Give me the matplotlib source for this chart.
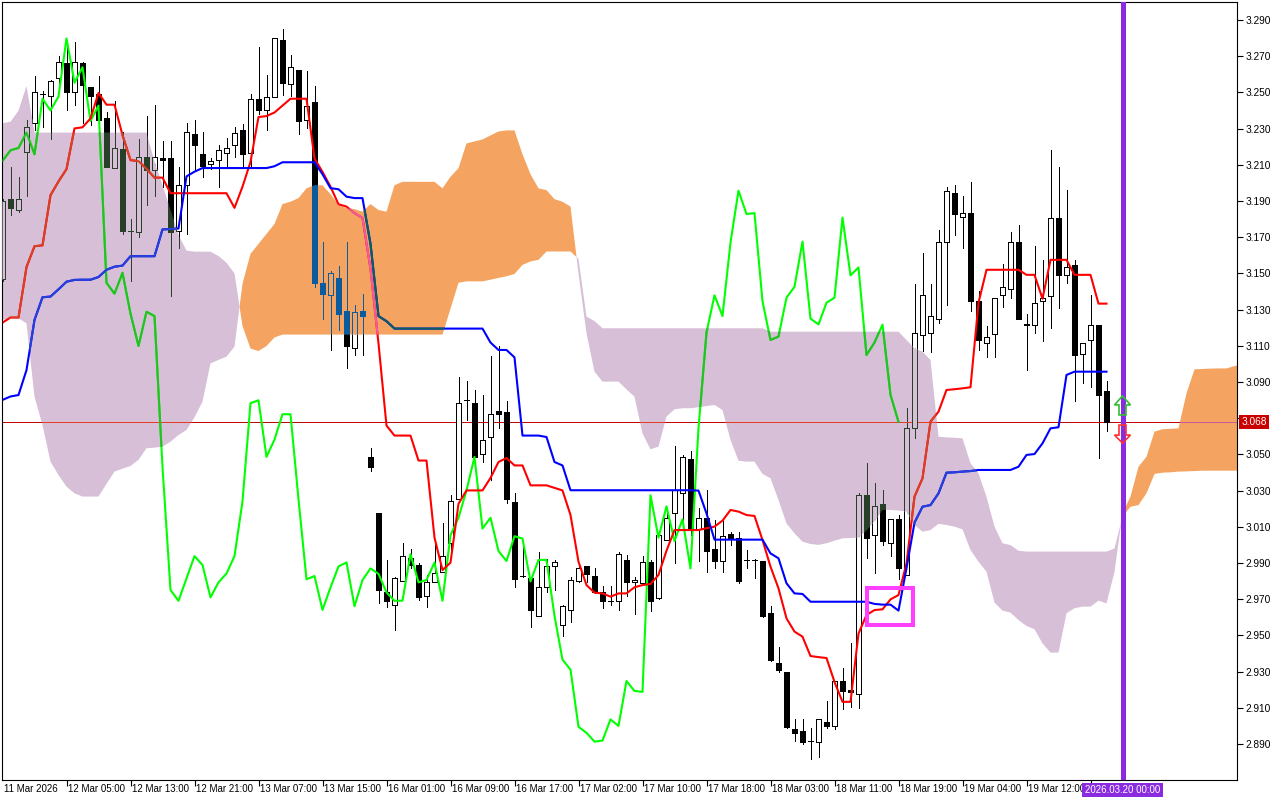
import numpy as np
import matplotlib
matplotlib.use("Agg")
import matplotlib.pyplot as plt
from matplotlib.path import Path
from matplotlib.patches import PathPatch, Rectangle, Polygon
from matplotlib.collections import LineCollection, PolyCollection

# ---------------- data (H1 bars) ----------------
opens = [3.147, 3.191, 3.185, 3.217, 3.233, 3.249, 3.248, 3.258, 3.266, 3.250,
         3.266, 3.253, 3.249, 3.236, 3.208, 3.219, 3.1735, 3.173, 3.2145, 3.207,
         3.214, 3.214, 3.1736, 3.1987, 3.227, 3.216, 3.2105, 3.2127, 3.2163, 3.2207,
         3.229, 3.2163, 3.2465, 3.2405, 3.2477, 3.279, 3.2548, 3.2625, 3.235, 3.2446,
         3.1448, 3.138, 3.1476, 3.1291, 3.109, 3.1291, 3.0486, 3.0178, 2.9738, 2.9669,
         2.9801, 2.993, 2.9889, 2.9718, 2.9793, 2.9853, 3.0013, 3.0252, 3.0799, 3.0783,
         3.0502, 3.0596, 3.0741, 3.0733, 3.0238, 2.9828, 2.9815, 2.9608, 2.9765, 2.9881,
         2.9559, 2.9641, 2.9798, 2.9881, 2.9828, 2.9738, 2.969, 2.9691, 2.9916, 2.9793,
         2.9787, 2.9903, 2.9705, 3.0026, 3.0178, 3.0288, 3.0475, 3.009, 3.015, 2.998,
         2.9911, 3.0062, 3.004, 2.9916, 2.9916, 2.9911, 2.9622, 2.9347, 2.9297, 2.8981,
         2.8973, 2.8918, 2.8913, 2.9023, 2.900, 2.9248, 2.9201, 2.9174, 3.0274, 3.0054,
         3.0224, 3.0013, 3.0142, 2.9834, 3.0645, 3.1162, 3.1168, 3.125, 3.1676, 3.1946,
         3.1811, 3.1836, 3.1346, 3.1118, 3.1165, 3.1379, 3.1415, 3.1671, 3.1217, 3.1217,
         3.1346, 3.1374, 3.1808, 3.1489, 3.1547, 3.1052, 3.1132, 3.1214, 3.0851]
highs = [3.191, 3.209, 3.203, 3.235, 3.259, 3.251, 3.257, 3.270, 3.279, 3.278,
         3.267, 3.253, 3.259, 3.239, 3.245, 3.228, 3.180, 3.224, 3.237, 3.243,
         3.223, 3.223, 3.209, 3.233, 3.2345, 3.228, 3.214, 3.2207, 3.2246, 3.2309,
         3.2323, 3.2493, 3.2749, 3.2598, 3.280, 3.285, 3.2708, 3.2625, 3.2617, 3.2537,
         3.1676, 3.1511, 3.1539, 3.1671, 3.1327, 3.1388, 3.0535, 3.0178, 2.9916, 2.982,
         3.0013, 2.9977, 2.9902, 2.9834, 3.0013, 3.0123, 3.0274, 3.0928, 3.0906, 3.0857,
         3.0829, 3.1041, 3.1099, 3.0794, 3.0288, 3.0013, 2.982, 2.9963, 2.9922, 2.9916,
         2.9669, 2.982, 2.9889, 2.9881, 2.987, 2.9771, 2.9771, 2.9958, 2.9944, 2.982,
         2.9938, 2.9916, 3.0056, 3.0205, 3.0549, 3.0499, 3.0521, 3.0205, 3.0301, 3.0137,
         3.0137, 3.0073, 3.0073, 2.9971, 2.992, 2.9911, 2.9661, 2.9435, 2.9297, 2.9036,
         2.9036, 2.899, 2.9036, 2.9138, 2.9248, 2.9319, 2.9457, 3.0288, 3.0453, 3.0343,
         3.0301, 3.0142, 3.0164, 3.0755, 3.1443, 3.1613, 3.1443, 3.174, 3.1979, 3.1987,
         3.1929, 3.2006, 3.1401, 3.1209, 3.1366, 3.155, 3.1731, 3.1767, 3.1277, 3.1649,
         3.1575, 3.218, 3.2089, 3.196, 3.1572, 3.1118, 3.1379, 3.1214, 3.0906]
lows = [3.146, 3.182, 3.184, 3.193, 3.229, 3.231, 3.224, 3.250, 3.240, 3.243,
        3.233, 3.232, 3.222, 3.209, 3.208, 3.172, 3.146, 3.170, 3.188, 3.193,
        3.198, 3.1375, 3.164, 3.172, 3.2071, 3.2034, 3.2075, 3.1979, 3.2086, 3.2141,
        3.2086, 3.2089, 3.2378, 3.229, 3.2474, 3.2488, 3.2482, 3.2268, 3.2301, 3.1426,
        3.125, 3.1077, 3.119, 3.098, 3.105, 3.105, 3.041, 2.9677, 2.9655, 2.9531,
        2.9801, 2.9875, 2.9696, 2.9655, 2.9793, 2.985, 2.9958, 3.0252, 3.0692, 3.0486,
        3.0458, 3.0356, 3.0645, 3.0233, 2.977, 2.982, 2.9545, 2.9608, 2.9738, 2.9751,
        2.9496, 2.9572, 2.9793, 2.9793, 2.9732, 2.965, 2.9669, 2.9641, 2.972, 2.962,
        2.9779, 2.9633, 2.9700, 3.0026, 2.990, 3.008, 3.0054, 2.9911, 2.9848, 2.9875,
        2.9848, 3.000, 2.9787, 2.987, 2.9815, 2.96, 2.9358, 2.9297, 2.899, 2.8918,
        2.8899, 2.8816, 2.883, 2.899, 2.8981, 2.9091, 2.9105, 2.9100, 2.993, 2.9842,
        2.9999, 2.9936, 2.981, 2.9834, 3.059, 3.1071, 3.1063, 3.1228, 3.1327, 3.1712,
        3.1643, 3.129, 3.1077, 3.1036, 3.1036, 3.1316, 3.1366, 3.125, 3.0967, 3.1173,
        3.1126, 3.12, 3.131, 3.1448, 3.0796, 3.0893, 3.087, 3.048, 3.0631]
closes = [3.190, 3.186, 3.191, 3.231, 3.250, 3.2492, 3.2565, 3.267, 3.250, 3.267,
          3.254, 3.248, 3.235, 3.209, 3.2195, 3.1735, 3.1733, 3.2145, 3.207, 3.2145,
          3.2127, 3.173, 3.1987, 3.228, 3.221, 3.2093, 3.2122, 3.218, 3.2193, 3.2278,
          3.2158, 3.2465, 3.240, 3.2477, 3.2798, 3.2553, 3.2639, 3.2342, 3.2427, 3.1448,
          3.1388, 3.1503, 3.1278, 3.1099, 3.1288, 3.1264, 3.043, 2.9751, 2.9691, 2.9815,
          2.9938, 2.9889, 2.971, 2.9793, 2.9842, 2.9938, 3.0241, 3.0783, 3.0799, 3.0486,
          3.0582, 3.0722, 3.0722, 3.0252, 2.981, 2.9828, 2.9641, 2.9765, 2.9881, 2.9903,
          2.9661, 2.9806, 2.987, 2.984, 2.9738, 2.9691, 2.9692, 2.9949, 2.9793, 2.9806,
          2.9903, 2.9691, 3.0054, 3.015, 3.0301, 3.0486, 3.009, 3.015, 2.9966, 2.9911,
          3.0048, 3.0035, 2.9798, 2.9917, 2.9917, 2.9608, 2.9366, 2.9311, 2.8995, 2.8962,
          2.8913, 2.8919, 2.9036, 2.900, 2.9248, 2.9193, 2.9188, 3.0274, 3.004, 3.0213,
          3.0021, 3.0142, 2.987, 3.0645, 3.1173, 3.1379, 3.1264, 3.1671, 3.1957, 3.1828,
          3.1833, 3.1346, 3.1132, 3.1151, 3.1366, 3.1426, 3.1676, 3.125, 3.1218, 3.1338,
          3.1366, 3.1808, 3.1489, 3.1533, 3.1049, 3.1118, 3.1217, 3.0829, 3.068]

tenkan = [3.1228, 3.1256, 3.1256, 3.1535, 3.1650, 3.1655, 3.1932, 3.2008, 3.2076, 3.2301,
          3.2307, 3.2356, 3.2497, 3.2432, 3.2432, 3.2264, 3.2126, 3.2120, 3.2078, 3.2029,
          3.2029, 3.1943, 3.1943, 3.1943, 3.1943, 3.1943, 3.1943, 3.1943, 3.1943, 3.1862,
          3.1979, 3.2116, 3.2364, 3.2369, 3.2389, 3.2427, 3.2465, 3.2465, 3.2465, 3.2135,
          3.2061, 3.1979, 3.1882, 3.1869, 3.1833, 3.1806, 3.1525, 3.1113, 3.0659, 3.0604,
          3.0604, 3.0604, 3.0466, 3.0466, 3.0040, 2.9861, 2.9902, 3.0227, 3.0301, 3.0301,
          3.0301, 3.0370, 3.0458, 3.0480, 3.0439, 3.0439, 3.0329, 3.0329, 3.0329, 3.0315,
          3.0301, 3.0165, 2.9907, 2.9778, 2.9736, 2.9732, 2.9714, 2.9732, 2.9732, 2.9766,
          2.9778, 2.9784, 2.9834, 2.9968, 3.0082, 3.0082, 3.0082, 3.0082, 3.0092, 3.0101,
          3.0134, 3.0193, 3.0184, 3.0165, 3.0160, 3.0027, 2.9880, 2.9760, 2.9594, 2.9521,
          2.9493, 2.9386, 2.9380, 2.9375, 2.9243, 2.9133, 2.9133, 2.9510, 2.9613, 2.9640,
          2.9644, 2.9699, 2.9723, 2.9898, 3.0267, 3.0368, 3.0681, 3.0736, 3.0856, 3.0860,
          3.0865, 3.0871, 3.1338, 3.1520, 3.1520, 3.1520, 3.1520, 3.1520, 3.1492, 3.1492,
          3.1360, 3.1575, 3.1575, 3.1575, 3.1492, 3.1492, 3.1492, 3.1333, 3.1333]
kijun = [3.0801, 3.0820, 3.0828, 3.0966, 3.1243, 3.1368, 3.1372, 3.1412, 3.1454, 3.1464,
         3.1465, 3.1465, 3.1480, 3.1520, 3.1537, 3.1543, 3.1595, 3.1595, 3.1595, 3.1595,
         3.1743, 3.1745, 3.1748, 3.2036, 3.2062, 3.2082, 3.2082, 3.2082, 3.2082, 3.2082,
         3.2082, 3.2082, 3.2082, 3.2082, 3.2092, 3.2114, 3.2114, 3.2114, 3.2114, 3.2114,
         3.2048, 3.1971, 3.1965, 3.1924, 3.1916, 3.1916, 3.1663, 3.1264, 3.1236, 3.1195,
         3.1195, 3.1195, 3.1195, 3.1195, 3.1195, 3.1195, 3.1195, 3.1195, 3.1195, 3.1195,
         3.1195, 3.1118, 3.1077, 3.1077, 3.1036, 3.0604, 3.0604, 3.0604, 3.0596, 3.0458,
         3.0439, 3.0302, 3.0302, 3.0302, 3.0302, 3.0302, 3.0302, 3.0302, 3.0302, 3.0302,
         3.0302, 3.0302, 3.0302, 3.0302, 3.0302, 3.0302, 3.0302, 3.0300, 3.0174, 3.0029,
         3.0029, 3.0029, 3.0029, 3.0029, 3.0029, 3.0029, 2.9953, 2.9926, 2.9788, 2.9732,
         2.9729, 2.9686, 2.9686, 2.9686, 2.9686, 2.9686, 2.9686, 2.9686, 2.9686, 2.9674,
         2.9670, 2.9670, 2.9637, 2.9871, 3.0123, 3.0211, 3.0220, 3.0285, 3.0399, 3.0401,
         3.0405, 3.0408, 3.0414, 3.0414, 3.0414, 3.0414, 3.0414, 3.0432, 3.0497, 3.0502,
         3.0561, 3.0644, 3.0650, 3.0939, 3.0957, 3.0957, 3.0957, 3.0957, 3.0957]

# Senkou spans as plotted (already shifted 26 bars forward), bar 0..155
span_a = [3.1243, 3.1252, 3.1252, 3.1224, 3.0819, 3.0662, 3.0460, 3.0386, 3.0322, 3.0285,
          3.0267, 3.0267, 3.0267, 3.0337, 3.0405, 3.0421, 3.0436, 3.0470, 3.0534, 3.0537,
          3.0543, 3.0570, 3.0607, 3.0635, 3.0705, 3.0791, 3.1003, 3.1022, 3.1040, 3.1095,
          3.1443, 3.1608, 3.1663, 3.1718, 3.1773, 3.1883, 3.1896, 3.1916, 3.1970, 3.1987,
          3.1987, 3.1938, 3.1877, 3.1860, 3.1855, 3.1841, 3.1883, 3.1850, 3.1841, 3.1987,
          3.2006, 3.2006, 3.2006, 3.2006, 3.2006, 3.1970, 3.2034, 3.2081, 3.2218, 3.2229,
          3.2240, 3.2262, 3.2284, 3.2290, 3.2290, 3.2158, 3.2048, 3.1970, 3.1960, 3.1910,
          3.1896, 3.1869, 3.1500, 3.1169, 3.0957, 3.0902, 3.0902, 3.0902, 3.0859, 3.0819,
          3.0616, 3.0528, 3.0543, 3.0709, 3.0749, 3.0755, 3.0755, 3.0760, 3.0767, 3.0773,
          3.0745, 3.0580, 3.0465, 3.0460, 3.0460, 3.0392, 3.0368, 3.0248, 3.0119, 3.0064,
          3.0018, 3.0005, 3.0000, 3.0009, 3.0023, 3.0036, 3.0038, 3.0040, 3.0080, 3.0130,
          3.0193, 3.0193, 3.0190, 3.0184, 3.0110, 3.0073, 3.0082, 3.0116, 3.0110, 3.0101,
          3.0086, 2.9972, 2.9907, 2.9852, 2.9681, 2.9637, 2.9626, 2.9585, 2.9552, 2.9534,
          2.9456, 2.9405, 2.9405, 2.9622, 2.9650, 2.9659, 2.9659, 2.9692, 2.9677, 2.9850,
          3.0175, 3.0267, 3.0432, 3.0487, 3.0626, 3.0639, 3.0641, 3.0644, 3.0837, 3.0970,
          3.0972, 3.0974, 3.0975, 3.0975, 3.0988, 3.0996]
span_b = [3.2329, 3.2338, 3.2399, 3.2535, 3.2278, 3.2278, 3.2278, 3.2278, 3.2278, 3.2278,
          3.2278, 3.2278, 3.2278, 3.2278, 3.2278, 3.2278, 3.2278, 3.2278, 3.2278, 3.2117,
          3.1988, 3.1850, 3.1712, 3.1626, 3.1620, 3.1620, 3.1620, 3.1596, 3.1559, 3.1500,
          3.1209, 3.1085, 3.1071, 3.1099, 3.1146, 3.1162, 3.1162, 3.1162, 3.1162, 3.1162,
          3.1162, 3.1162, 3.1162, 3.1162, 3.1162, 3.1162, 3.1162, 3.1162, 3.1162, 3.1162,
          3.1162, 3.1162, 3.1162, 3.1162, 3.1162, 3.1162, 3.1305, 3.1448, 3.1456, 3.1456,
          3.1456, 3.1465, 3.1475, 3.1484, 3.1497, 3.1547, 3.1566, 3.1575, 3.1621, 3.1621,
          3.1621, 3.1621, 3.1580, 3.1261, 3.1237, 3.1197, 3.1197, 3.1197, 3.1197, 3.1197,
          3.1197, 3.1197, 3.1197, 3.1197, 3.1197, 3.1197, 3.1197, 3.1197, 3.1197, 3.1197,
          3.1197, 3.1197, 3.1197, 3.1197, 3.1197, 3.1197, 3.1178, 3.1178, 3.1178, 3.1178,
          3.1178, 3.1178, 3.1178, 3.1178, 3.1178, 3.1178, 3.1178, 3.1178, 3.1178, 3.1178,
          3.1178, 3.1178, 3.1178, 3.1132, 3.1086, 3.1068, 3.1022, 3.0598, 3.0594, 3.0592,
          3.0589, 3.0451, 3.0395, 3.0266, 3.0101, 3.0009, 2.9999, 2.9968, 2.9963, 2.9963,
          2.9963, 2.9963, 2.9963, 2.9963, 2.9963, 2.9963, 2.9963, 2.9963, 2.9963, 2.9980,
          3.0156, 3.0211, 3.0220, 3.0285, 3.0392, 3.0399, 3.0401, 3.0405, 3.0406, 3.0408,
          3.0410, 3.0410, 3.0410, 3.0410, 3.0410, 3.0410]

CHIKOU_SHIFT = 26
xtick_pos = [0, 8, 16, 24, 32, 40, 48, 56, 64, 72, 80, 88, 96, 104, 112, 120, 128]
xtick_labels = ["11 Mar 2026", "12 Mar 05:00", "12 Mar 13:00", "12 Mar 21:00", "13 Mar 07:00",
                "13 Mar 15:00", "16 Mar 01:00", "16 Mar 09:00", "16 Mar 17:00", "17 Mar 02:00",
                "17 Mar 10:00", "17 Mar 18:00", "18 Mar 03:00", "18 Mar 11:00", "18 Mar 19:00",
                "19 Mar 04:00", "19 Mar 12:00"]
ytick_vals = [2.89, 2.91, 2.93, 2.95, 2.97, 2.99, 3.01, 3.03, 3.05, 3.07, 3.09, 3.11,
              3.13, 3.15, 3.17, 3.19, 3.21, 3.23, 3.25, 3.27, 3.29]
vline_bar = 140
vline_label = "2026.03.20 00:00"
rect_box = (108.06, 2.9558, 5.74, 0.0204)   # x, y, width, height of drawn rectangle object
up_arrow_base = 3.0718
down_arrow_top = 3.0662

# ---------------- style ----------------
ORANGE = "#F4A460"
THISTLE = "#D8BFD8"
RED = "#FF0000"
BLUE = "#0000FF"
LIME = "#00FF00"
PRICE_LINE = "#C00000"
FONT = "Liberation Sans"

def xor_col(c, cloud):
    v = int(c.lstrip("#"), 16) ^ (0xFFFFFF ^ int(cloud.lstrip("#"), 16))
    return "#%06X" % v

n = len(closes)
xb = np.arange(n)
O = np.array(opens); H = np.array(highs); L = np.array(lows); C = np.array(closes)

fig = plt.figure(figsize=(12.8, 8), dpi=100)
ax = fig.add_axes([2.3 / 1280, 20 / 800, 1235 / 1280, 778 / 800])
ax.set_xlim(-0.025, 154.35)
ax.set_ylim(2.87011, 3.29994)

A = np.array(span_a); B = np.array(span_b); xc = np.arange(len(A))
f_or = ax.fill_between(xc, A, B, where=A >= B, interpolate=True, color=ORANGE, lw=0, zorder=1)
f_th = ax.fill_between(xc, A, B, where=B > A, interpolate=True, color=THISTLE, lw=0, zorder=1)

def clip_patch(coll):
    paths = coll.get_paths()
    p = Path.make_compound_path(*paths)
    return PathPatch(p, transform=ax.transData, fc="none", ec="none")

BW = 0.28
EW = 0.55

def draw_layer(colfn, clip=None, z=2.0):
    arts = []
    segs = [[(i, L[i]), (i, H[i])] for i in range(n)]
    lc = LineCollection(segs, colors=colfn("#000000"), linewidths=EW, zorder=z, antialiased=False)
    ax.add_collection(lc); arts.append(lc)
    verts, fcs = [], []
    for i in range(n):
        lo, hi = min(O[i], C[i]), max(O[i], C[i])
        verts.append([(i - BW, lo), (i + BW, lo), (i + BW, hi), (i - BW, hi)])
        fcs.append(colfn("#FFFFFF") if C[i] >= O[i] else colfn("#000000"))
    pc = PolyCollection(verts, facecolors=fcs, edgecolors=colfn("#000000"), linewidths=EW,
                        zorder=z + 0.1, antialiased=False)
    ax.add_collection(pc); arts.append(pc)
    arts.append(ax.axhline(closes[-1], color=colfn(PRICE_LINE), lw=0.7, zorder=z + 0.05))
    arts += ax.plot(xb[:n - CHIKOU_SHIFT], C[CHIKOU_SHIFT:], color=colfn(LIME), lw=1.5, zorder=z + 0.2)
    arts += ax.plot(xb, tenkan, color=colfn(RED), lw=1.5, zorder=z + 0.3)
    arts += ax.plot(xb, kijun, color=colfn(BLUE), lw=1.5, zorder=z + 0.3)
    if clip is not None:
        for a in arts:
            a.set_clip_path(clip)

draw_layer(lambda c: c, None, 2.0)
draw_layer(lambda c: xor_col(c, ORANGE), clip_patch(f_or), 5.0)
draw_layer(lambda c: xor_col(c, THISTLE), clip_patch(f_th), 5.0)

# objects on top
ax.axvline(vline_bar, color="#8A2BE2", lw=3.6, zorder=10)
ax.add_patch(Rectangle(rect_box[:2], rect_box[2], rect_box[3], fc="none", ec="#FF40FF", lw=2.9, zorder=10))

pxx, pxy = 1 / 8.0, 1 / 1810.0
up_shape = [(-3.5, 0), (3.5, 0), (3.5, 10), (8, 10), (0, 19), (-8, 10), (-3.5, 10)]
dn_shape = [(-3.5, 0), (3.5, 0), (3.5, -10), (8, -10), (0, -18), (-8, -10), (-3.5, -10)]
ax.add_patch(Polygon([(vline_bar + dx * pxx, up_arrow_base + dy * pxy) for dx, dy in up_shape],
                     closed=True, fc="none", ec="#30C030", lw=1.2, zorder=11))
ax.add_patch(Polygon([(vline_bar + dx * pxx, down_arrow_top + dy * pxy) for dx, dy in dn_shape],
                     closed=True, fc="none", ec="#FF3030", lw=1.2, zorder=11))

# axes / ticks
for s in ax.spines.values():
    s.set_linewidth(0.8); s.set_color("black")
ax.yaxis.tick_right()
ax.set_yticks(ytick_vals)
# the 3.070 label is hidden behind the current-price box in the reference
ax.set_yticklabels(["" if abs(v - 3.07) < 1e-9 else "%.3f" % v for v in ytick_vals],
                   fontsize=7.3, family=FONT)
ax.tick_params(axis="y", direction="out", length=4, width=0.8, pad=2)
ax.set_xticks(xtick_pos[1:] + [136])
ax.tick_params(axis="x", direction="out", length=4, width=0.8, labelbottom=False)
for p, lab in zip(xtick_pos, xtick_labels):
    ax.annotate(lab, xy=(p, 0), xycoords=("data", "axes fraction"), xytext=(2, -4),
                textcoords="offset pixels", ha="left", va="top", fontsize=7.0, family=FONT,
                annotation_clip=False)
ax.annotate(vline_label, xy=(vline_bar, 0), xycoords=("data", "axes fraction"), xytext=(0, -10),
            textcoords="offset pixels", ha="center", va="center", fontsize=7.0, family=FONT,
            color="white", annotation_clip=False, zorder=12,
            bbox=dict(boxstyle="square,pad=0.25", fc="#8A2BE2", ec="none"))
ax.annotate("%.3f" % closes[-1], xy=(1, closes[-1]), xycoords=("axes fraction", "data"), xytext=(4, 0),
            textcoords="offset pixels", ha="left", va="center", fontsize=7.3, family=FONT,
            color="white", annotation_clip=False, zorder=12,
            bbox=dict(boxstyle="square,pad=0.2", fc="#C80000", ec="none"))

fig.savefig("out.png", dpi=100, facecolor="white")
